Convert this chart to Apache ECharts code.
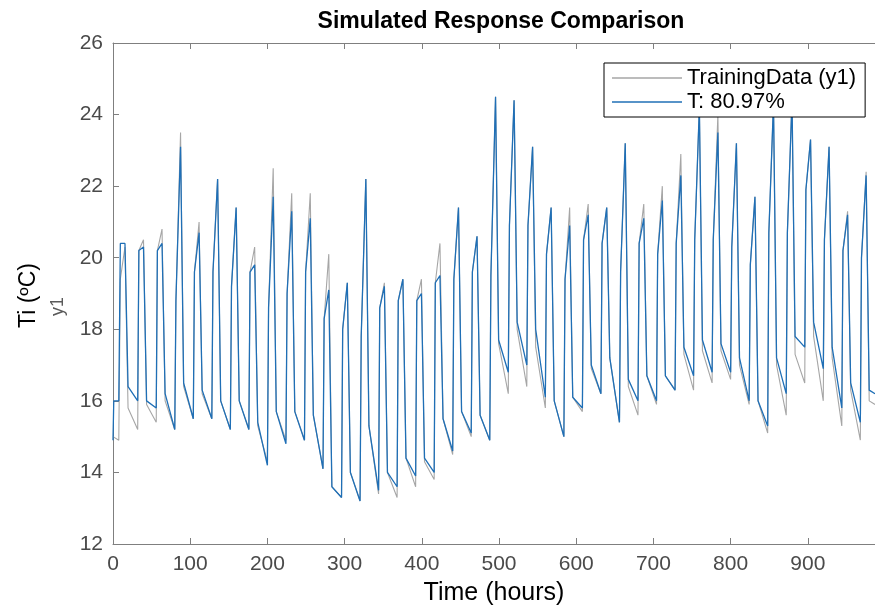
<!DOCTYPE html>
<html>
<head>
<meta charset="utf-8">
<script src="https://cdn.jsdelivr.net/npm/echarts@6/dist/echarts.min.js"></script>
<style>html,body{margin:0;padding:0;background:#fff;}#c{width:875px;height:611px;}</style>
</head>
<body>
<div id="c"></div>
<script>
// hour at which each daily rise starts
const riseHours = [8,32,56,80,104,128,152,176,200,224,248,272,296,320,344,368,392,416,440,464,488,512,536,560,584,608,632,656,680,704,728,752,776,800,824,848,872,896,920,944,968];
const endHour = 987;
const xTicks = [0,100,200,300,400,500,600,700,800,900];
const yTicks = [12,14,16,18,20,22,24,26];

// TrainingData (y1) — grey
const greyStart = [[0,15.0],[7.5,14.9]];
const greyShoulder = [19.4,20.2,20.2,18.8,19.6,19.6,19.2,19.6,18.6,19.0,19.6,18.3,18.0,17.8,18.6,18.8,18.8,19.3,19.4,19.6,19.5,20.9,20.9,20.1,19.4,20.5,20.4,19.6,20.4,20.1,20.4,20.5,20.5,20.3,19.8,20.7,20.7,21.9,20.5,20.2,20.0];
const greyPeak = [20.3,20.5,20.8,23.5,21.0,22.2,21.4,20.3,22.5,21.8,21.8,20.1,19.3,22.2,19.3,19.4,19.4,20.4,21.4,20.6,24.5,24.4,23.1,21.4,21.4,21.5,21.4,23.2,21.5,22.0,22.9,24.2,24.0,23.2,21.7,24.3,24.4,23.3,23.1,21.3,22.4];
const greyDrop = [15.8,15.9,16.0,16.4,16.2,16.0,16.0,15.3,15.7,15.7,15.6,13.6,14.0,15.3,14.0,14.4,14.3,15.5,15.7,15.6,17.6,18.0,17.5,16.0,16.1,16.9,17.2,16.4,16.7,16.7,17.3,17.4,17.4,17.0,16.0,17.0,17.3,17.8,17.2,16.3,16.0];
const greyLow = [15.2,15.4,15.2,15.5,15.5,15.2,15.2,14.3,14.9,14.9,14.1,13.3,13.2,13.4,13.3,13.6,13.8,14.5,15.0,14.9,16.2,16.4,15.8,15.0,15.7,16.2,15.4,15.6,15.9,16.3,16.3,16.5,16.6,15.9,15.1,15.6,16.5,16.0,15.3,14.9];
const greyEnd = 15.9;

// T: 80.97% — blue
const blueStart = [[0,14.9],[1,16.0],[7.5,16.0]];
const blueShoulder = [20.4,20.2,20.2,18.8,19.6,19.6,19.2,19.6,18.6,19.0,19.6,18.3,18.0,17.8,18.6,18.8,18.8,19.3,19.4,19.6,19.5,20.9,20.9,20.1,19.4,20.5,20.4,19.6,20.4,20.1,20.4,20.5,20.5,20.3,19.8,20.7,20.7,21.9,20.5,20.2,20.0];
const bluePeak = [20.4,20.3,20.4,23.1,20.7,22.2,21.4,19.8,21.7,21.3,21.1,19.1,19.3,22.2,19.2,19.4,19.0,19.5,21.4,20.6,24.5,24.4,23.1,21.4,20.9,21.2,21.4,23.2,21.1,21.6,22.3,24.2,23.5,23.2,21.7,24.3,24.4,23.3,23.1,21.2,22.3];
const blueDrop = [16.4,16.0,16.2,16.5,16.3,16.0,16.0,15.4,15.7,15.7,15.6,13.6,14.0,15.3,14.0,14.4,14.4,15.5,15.7,15.6,17.7,18.2,18.0,16.0,16.1,17.0,17.2,16.6,16.7,16.7,17.5,17.7,17.6,17.2,16.0,17.2,17.8,18.2,17.5,16.5,16.3];
const blueLow = [16.0,15.8,15.2,15.5,15.5,15.2,15.2,14.2,14.8,14.9,14.1,13.3,13.2,13.5,13.6,13.9,14.0,14.6,15.1,14.9,16.8,17.0,16.1,15.0,15.8,16.2,15.4,16.0,16.0,16.3,16.7,16.8,16.8,16.0,15.3,16.2,17.5,16.9,15.8,15.4];
const blueEnd = 16.2;

function build(start, shoulder, peak, drop, low, endVal) {
  const pts = start.slice();
  let prevLow = start[start.length - 1][1];
  riseHours.forEach((r, k) => {
    pts.push([r, prevLow]);
    pts.push([r + 1.5, shoulder[k]]);
    pts.push([r + 7.5, peak[k]]);
    pts.push([r + 11.5, drop[k]]);
    if (k < low.length) prevLow = low[k];
  });
  pts.push([endHour, endVal]);
  return pts;
}

const FONT = 'Liberation Sans, Arial, sans-serif';
const chart = echarts.init(document.getElementById('c'), null, {renderer: 'canvas'});
const labelColor = '#4a4a4a';
const axisColor = '#7f7f7f';
chart.setOption({
  animation: false,
  backgroundColor: '#ffffff',
  title: {
    text: 'Simulated Response Comparison',
    left: 496, top: 5, textAlign: 'center',
    textStyle: {fontFamily: FONT, fontWeight: 'bold', fontSize: 23, color: '#000'}
  },
  legend: {
    orient: 'vertical', left: 604, top: 63,
    backgroundColor: '#fff', borderColor: '#000', borderWidth: 1,
    padding: [3, 9, 3, 8], itemGap: 0, itemWidth: 70, itemHeight: 1.5,
    icon: 'rect',
    textStyle: {fontFamily: FONT, fontSize: 22, lineHeight: 24, color: '#000'},
    data: ['TrainingData (y1)', 'T: 80.97%']
  },
  grid: {left: 113, right: 0, top: 43, bottom: 57, containLabel: false},
  xAxis: [{
    type: 'value', min: 0, max: endHour, interval: 100,
    axisLine: {show: true, onZero: false, lineStyle: {color: axisColor, width: 1}},
    axisTick: {show: true, inside: true, length: 6, customValues: xTicks, lineStyle: {color: axisColor}},
    axisLabel: {customValues: xTicks, color: labelColor, fontSize: 21, fontFamily: FONT, margin: 10},
    splitLine: {show: false},
    name: 'Time (hours)', nameLocation: 'middle', nameGap: 37,
    nameTextStyle: {color: '#000', fontSize: 25, fontFamily: FONT}
  }, {
    type: 'value', min: 0, max: endHour, interval: 100, position: 'top',
    axisLine: {show: true, onZero: false, lineStyle: {color: axisColor, width: 1}},
    axisTick: {show: true, inside: true, length: 6, customValues: xTicks, lineStyle: {color: axisColor}},
    axisLabel: {show: false}, splitLine: {show: false}
  }],
  yAxis: [{
    type: 'value', min: 12, max: 26, interval: 2,
    axisLine: {show: true, onZero: false, lineStyle: {color: axisColor, width: 1}},
    axisTick: {show: true, inside: true, length: 6, lineStyle: {color: axisColor}},
    axisLabel: {customValues: yTicks, color: labelColor, fontSize: 21, fontFamily: FONT, margin: 10},
    splitLine: {show: false}
  }],
  graphic: [
    {type: 'text', left: 17, top: 263, rotation: Math.PI / 2, style: {text: 'Ti (ºC)', fill: '#000', font: '23px "Liberation Sans", Arial, sans-serif'}},
    {type: 'text', left: 49, top: 297, rotation: Math.PI / 2, style: {text: 'y1', fill: '#5a5a5a', font: '18px "Liberation Sans", Arial, sans-serif'}}
  ],
  series: [{
    name: 'TrainingData (y1)', type: 'line', symbol: 'none', showSymbol: false,
    lineStyle: {color: '#a6a6a6', width: 1.1}, itemStyle: {color: '#a6a6a6'},
    data: build(greyStart, greyShoulder, greyPeak, greyDrop, greyLow, greyEnd), z: 2
  }, {
    name: 'T: 80.97%', type: 'line', symbol: 'none', showSymbol: false,
    lineStyle: {color: '#1f6fb6', width: 1.3}, itemStyle: {color: '#1f6fb6'},
    data: build(blueStart, blueShoulder, bluePeak, blueDrop, blueLow, blueEnd), z: 3
  }]
});
</script>
</body>
</html>
